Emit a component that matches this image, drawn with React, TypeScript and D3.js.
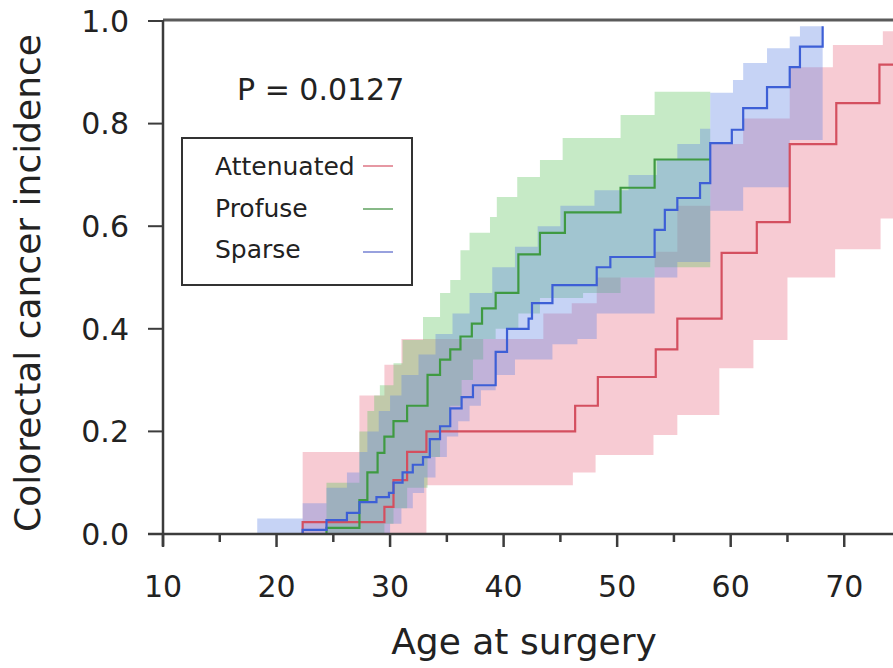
import React, { useEffect, useRef } from 'react'
import * as d3 from 'd3'

type Step = [number, number]

// axis ticks
const ageTicks = [10, 20, 30, 40, 50, 60, 70]
const ageMinorTicks = [15, 25, 35, 45, 55, 65]
const incTicks = [0, 0.2, 0.4, 0.6, 0.8, 1.0]

// step curves, [age, incidence] where each step starts
const attenuatedLine: Step[] = [[22.0, 0], [22.3, 0.023], [29.5, 0.053], [30.3, 0.105], [31.5, 0.16], [33.2, 0.2], [46.3, 0.25], [48.3, 0.306], [53.4, 0.36], [55.3, 0.42], [59.2, 0.548], [62.3, 0.608], [65.2, 0.76], [69.3, 0.84], [73.1, 0.915]]
const profuseLine: Step[] = [[24.0, 0], [24.4, 0.012], [27.3, 0.066], [28.0, 0.12], [28.9, 0.158], [29.5, 0.19], [30.3, 0.22], [31.5, 0.25], [33.3, 0.31], [34.4, 0.34], [35.3, 0.36], [36.2, 0.385], [37.2, 0.41], [38.1, 0.44], [39.3, 0.47], [41.3, 0.545], [43.2, 0.587], [45.4, 0.627], [50.3, 0.675], [53.3, 0.73]]
const sparseLine: Step[] = [[20.1, 0], [22.3, 0.008], [24.4, 0.027], [26.2, 0.041], [27.3, 0.062], [28.8, 0.072], [29.9, 0.08], [30.3, 0.1], [31.1, 0.12], [32.0, 0.135], [32.9, 0.15], [33.5, 0.185], [34.4, 0.21], [35.3, 0.245], [36.3, 0.267], [37.3, 0.29], [39.3, 0.355], [40.3, 0.4], [42.2, 0.42], [42.5, 0.45], [44.3, 0.485], [48.2, 0.52], [49.4, 0.54], [53.3, 0.593], [54.2, 0.632], [55.3, 0.655], [57.3, 0.684], [58.2, 0.762], [60.1, 0.788], [61.1, 0.83], [63.2, 0.871], [65.2, 0.91], [66.1, 0.95], [68.1, 0.99]]

// confidence bands
const attenuatedUpper: Step[] = [[22.3, 0.16], [27.3, 0.27], [29.5, 0.33], [31.0, 0.38], [43.5, 0.43], [46.0, 0.45], [48.2, 0.5], [53.3, 0.55], [55.3, 0.64], [58.2, 0.76], [61.1, 0.81], [65.2, 0.91], [69.0, 0.953], [73.4, 0.98]]
const attenuatedLower: Step[] = [[22.3, 0], [33.2, 0.095], [46.1, 0.12], [48.1, 0.154], [53.2, 0.193], [55.3, 0.232], [59.0, 0.323], [62.0, 0.378], [65.0, 0.5], [69.2, 0.555], [73.2, 0.615]]
const profuseUpper: Step[] = [[24.4, 0.1], [27.3, 0.2], [28.0, 0.24], [28.6, 0.27], [29.1, 0.29], [30.3, 0.333], [31.1, 0.378], [32.9, 0.423], [34.4, 0.47], [35.3, 0.495], [36.2, 0.553], [37.0, 0.587], [38.8, 0.618], [39.4, 0.657], [41.2, 0.696], [43.2, 0.729], [45.2, 0.772], [50.3, 0.817], [53.3, 0.862]]
const profuseLower: Step[] = [[24.4, 0], [29.5, 0.02], [30.3, 0.05], [31.5, 0.09], [33.3, 0.15], [34.4, 0.2], [35.3, 0.25], [36.3, 0.3], [37.3, 0.34], [38.2, 0.38], [39.3, 0.4], [41.3, 0.43], [43.2, 0.46], [47.0, 0.47], [50.3, 0.5], [53.3, 0.52]]
const sparseUpper: Step[] = [[18.3, 0.03], [22.3, 0.06], [24.4, 0.09], [26.2, 0.12], [27.3, 0.16], [28.0, 0.2], [29.0, 0.24], [30.0, 0.27], [31.0, 0.31], [32.5, 0.35], [34.0, 0.39], [35.5, 0.43], [37.0, 0.47], [39.0, 0.52], [41.0, 0.56], [43.0, 0.6], [45.0, 0.64], [48.0, 0.67], [51.0, 0.7], [53.5, 0.73], [55.3, 0.76], [57.3, 0.79], [58.2, 0.86], [60.2, 0.885], [61.1, 0.918], [63.2, 0.947], [65.2, 0.97], [66.1, 0.99]]
const sparseLower: Step[] = [[18.3, 0], [30.0, 0.02], [31.0, 0.05], [32.0, 0.08], [33.0, 0.11], [34.0, 0.15], [35.0, 0.19], [36.0, 0.22], [37.0, 0.25], [38.0, 0.28], [39.3, 0.31], [41.0, 0.34], [44.3, 0.37], [46.5, 0.38], [48.2, 0.43], [53.3, 0.5], [55.3, 0.53], [58.2, 0.63], [61.1, 0.676], [65.2, 0.768]]

const groups = [
  { name: 'Attenuated', line: attenuatedLine, upper: attenuatedUpper, lower: attenuatedLower, end: 75, color: '#d44f5f', band: 'rgba(232,112,132,0.36)', key: '#e07f8c' },
  { name: 'Profuse', line: profuseLine, upper: profuseUpper, lower: profuseLower, end: 58.2, color: '#3f9a42', band: 'rgba(98,198,98,0.36)', key: '#6aa86a' },
  { name: 'Sparse', line: sparseLine, upper: sparseUpper, lower: sparseLower, end: 68.1, color: '#3d5fd6', band: 'rgba(98,132,226,0.36)', key: '#7f8ad6' }
]

const valueAt = (steps: Step[], a: number) => {
  let v = steps[0][1]
  for (const [x, y] of steps) if (x <= a) v = y
  return v
}

export default function App() {
  const ref = useRef<SVGSVGElement>(null)

  useEffect(() => {
    if (!ref.current) return
    const svg = d3.select(ref.current)
    svg.selectAll('*').remove()

    const x = d3.scaleLinear().domain([10, 75]).range([163, 901])
    const y = d3.scaleLinear().domain([0, 1]).range([534, 21])
    const font = 'DejaVu Sans, Verdana, sans-serif'

    svg.append('clipPath').attr('id', 'plot')
      .append('rect').attr('x', 163).attr('y', 21).attr('width', 740).attr('height', 513)

    const plot = svg.append('g').attr('clip-path', 'url(#plot)')

    // bands
    groups.forEach(g => {
      const ages = Array.from(new Set([...g.upper.map(d => d[0]), ...g.lower.map(d => d[0])])).sort((a, b) => a - b)
      ages.push(g.end)
      const pts = ages.map(a => ({ age: a, lo: valueAt(g.lower, a), hi: valueAt(g.upper, a) }))
      const area = d3.area<{ age: number; lo: number; hi: number }>()
        .x(d => x(d.age)).y0(d => y(d.lo)).y1(d => y(d.hi))
        .curve(d3.curveStepAfter)
      plot.append('path').attr('d', area(pts)).attr('fill', g.band)
    })

    // estimate lines
    groups.forEach(g => {
      const last = g.line[g.line.length - 1]
      const pts = last[0] < g.end ? [...g.line, [g.end, last[1]] as Step] : g.line
      const line = d3.line<Step>().x(d => x(d[0])).y(d => y(d[1])).curve(d3.curveStepAfter)
      plot.append('path').attr('d', line(pts)).attr('fill', 'none')
        .attr('stroke', g.color).attr('stroke-width', 2.2)
    })

    // frame and axes
    const axis = svg.append('g').attr('stroke', '#3c3c3c')
    axis.append('line').attr('x1', x(10)).attr('x2', 893).attr('y1', 20).attr('y2', 20)
      .attr('stroke', '#5a5a5a').attr('stroke-width', 3)
    axis.append('line').attr('x1', 148).attr('x2', 893).attr('y1', y(0)).attr('y2', y(0)).attr('stroke-width', 2.5)
    axis.append('line').attr('x1', x(10)).attr('x2', x(10)).attr('y1', 20).attr('y2', 546).attr('stroke-width', 2.5)

    axis.selectAll('.ymaj').data(incTicks).join('line')
      .attr('x1', 148).attr('x2', x(10)).attr('y1', d => y(d)).attr('y2', d => y(d)).attr('stroke-width', 2)
    axis.selectAll('.xmaj').data(ageTicks).join('line')
      .attr('x1', d => x(d)).attr('x2', d => x(d)).attr('y1', y(0)).attr('y2', y(0) + 13).attr('stroke-width', 2.5)
    axis.selectAll('.xmin').data(ageMinorTicks).join('line')
      .attr('x1', d => x(d)).attr('x2', d => x(d)).attr('y1', y(0)).attr('y2', y(0) + 8).attr('stroke-width', 2.5)

    svg.append('g').attr('font-family', font).attr('font-size', 30).attr('fill', '#222')
      .attr('text-anchor', 'middle')
      .selectAll('text').data(ageTicks).join('text')
      .attr('x', d => x(d)).attr('y', 597).text(d => d)

    svg.append('g').attr('font-family', font).attr('font-size', 30).attr('fill', '#222')
      .attr('text-anchor', 'end')
      .selectAll('text').data(incTicks).join('text')
      .attr('x', 129).attr('y', d => y(d)).attr('dy', '0.36em').text(d => d.toFixed(1))

    svg.append('text').attr('x', 524).attr('y', 654).attr('text-anchor', 'middle')
      .attr('font-family', font).attr('font-size', 36).attr('fill', '#222').text('Age at surgery')
    svg.append('text').attr('transform', 'translate(40, 283) rotate(-90)').attr('text-anchor', 'middle')
      .attr('font-family', font).attr('font-size', 36).attr('fill', '#222').text('Colorectal cancer incidence')

    svg.append('text').attr('x', 237).attr('y', 100)
      .attr('font-family', font).attr('font-size', 30).attr('fill', '#222').text('P = 0.0127')

    // legend
    const legend = svg.append('g')
    legend.append('rect').attr('x', 182).attr('y', 138).attr('width', 230).attr('height', 147)
      .attr('fill', 'white').attr('stroke', '#333').attr('stroke-width', 2)
    groups.forEach((g, i) => {
      legend.append('text').attr('x', 215).attr('y', 175 + i * 41.5)
        .attr('font-family', font).attr('font-size', 25).attr('fill', '#222').text(g.name)
      legend.append('line').attr('x1', 363).attr('x2', 393)
        .attr('y1', 166 + i * 43).attr('y2', 166 + i * 43)
        .attr('stroke', g.key).attr('stroke-width', 1.6)
    })
  }, [])

  return (
    <svg ref={ref} width={893} height={668}
      style={{ position: 'absolute', left: 0, top: 0, background: 'white', display: 'block' }} />
  )
}
